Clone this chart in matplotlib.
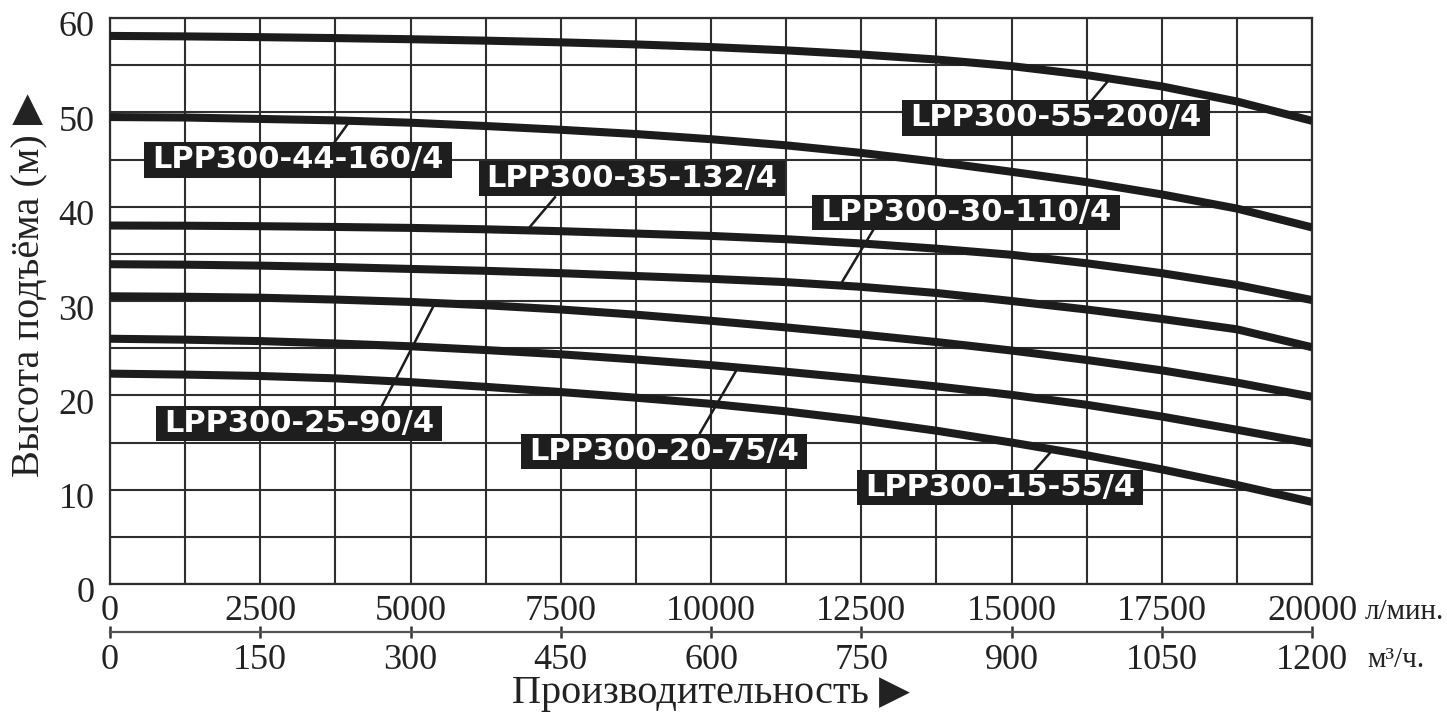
import numpy as np
import matplotlib
matplotlib.use("Agg")
import matplotlib.pyplot as plt
from matplotlib.path import Path
from matplotlib.transforms import ScaledTranslation

# Flow rate grid (l/min) at which the pump heads are tabulated
flow_lpm = [0, 1250, 2500, 3750, 5000, 6250, 7500, 8750, 10000,
            11250, 12500, 13750, 15000, 16250, 17500, 18750, 20000]

# Head (m) for each pump model
head_55_200 = [58.1, 58.05, 57.97, 57.87, 57.75, 57.6, 57.42, 57.2, 56.92,
               56.57, 56.13, 55.6, 54.9, 53.95, 52.75, 51.15, 49.1]
head_44_160 = [49.5, 49.45, 49.3, 49.15, 48.9, 48.55, 48.15, 47.7, 47.15,
               46.5, 45.7, 44.75, 43.7, 42.6, 41.3, 39.8, 37.8]
head_35_132 = [38.0, 37.98, 37.93, 37.85, 37.75, 37.6, 37.4, 37.15, 36.9,
               36.55, 36.1, 35.55, 34.9, 34.0, 32.95, 31.7, 30.1]
head_30_110 = [33.9, 33.85, 33.75, 33.6, 33.4, 33.2, 32.95, 32.65, 32.35,
               32.0, 31.5, 30.85, 30.0, 29.1, 28.1, 27.0, 25.1]
head_25_90 = [30.5, 30.45, 30.35, 30.15, 29.9, 29.55, 29.1, 28.55, 27.9,
              27.2, 26.45, 25.65, 24.75, 23.75, 22.65, 21.35, 19.85]
head_20_75 = [26.0, 25.9, 25.75, 25.5, 25.2, 24.8, 24.35, 23.8, 23.2,
              22.5, 21.75, 20.95, 20.05, 19.0, 17.75, 16.35, 14.9]
head_15_55 = [22.3, 22.2, 22.05, 21.8, 21.4, 20.9, 20.35, 19.75, 19.1,
              18.3, 17.35, 16.25, 15.0, 13.65, 12.15, 10.5, 8.7]

models = ["LPP300-55-200/4", "LPP300-44-160/4", "LPP300-35-132/4",
          "LPP300-30-110/4", "LPP300-25-90/4", "LPP300-20-75/4",
          "LPP300-15-55/4"]
heads = [head_55_200, head_44_160, head_35_132, head_30_110,
         head_25_90, head_20_75, head_15_55]

x_ticks_lpm = [0, 2500, 5000, 7500, 10000, 12500, 15000, 17500, 20000]
x_ticks_m3h = [0, 150, 300, 450, 600, 750, 900, 1050, 1200]
y_ticks = [0, 10, 20, 30, 40, 50, 60]

# Label placement: box centre (x, y), leader start on the box (x, y),
# leader end x on the curve
label_layout = {
    "LPP300-55-200/4": (15740, 49.4, 16340, 51.3, 16640),
    "LPP300-44-160/4": (3128, 44.95, 3744, 46.9, 3993),
    "LPP300-35-132/4": (8686, 43.0, 7404, 41.0, 6938),
    "LPP300-30-110/4": (14243, 39.4, 12696, 37.5, 12146),
    "LPP300-25-90/4": (3145, 17.0, 4526, 18.9, 5408),
    "LPP300-20-75/4": (9218, 14.0, 9817, 16.0, 10449),
    "LPP300-15-55/4": (14809, 10.2, 15391, 12.1, 15690),
}

W, H = 1447, 715
fig = plt.figure(figsize=(W / 100, H / 100), dpi=100)
ax = fig.add_axes([110 / W, 131 / H, 1202 / W, 566 / H])

serif = ["Liberation Serif", "DejaVu Sans"]
ink = "#1c1c1c"
grid_col = "#2e2e2e"
text_col = "#222222"

ax.set_xlim(0, 20000)
ax.set_ylim(0, 60)
ax.set_xticks(x_ticks_lpm)
ax.set_xticks(np.arange(0, 20001, 1250), minor=True)
ax.set_yticks(y_ticks)
ax.set_yticks(np.arange(0, 61, 5), minor=True)
ax.grid(which="both", color=grid_col, lw=1.5)
ax.set_axisbelow(True)
for s in ax.spines.values():
    s.set_color(grid_col)
    s.set_linewidth(1.6)
ax.tick_params(which="both", length=0)
ax.tick_params(axis="x", pad=8)
ax.tick_params(axis="y", pad=11)
ax.set_xticklabels([str(v) for v in x_ticks_lpm], fontsize=26,
                   family=serif, color=text_col)
ax.set_yticklabels([str(v) for v in y_ticks], fontsize=26,
                   family=serif, color=text_col)
shift = ScaledTranslation(0, -6 / 100, fig.dpi_scale_trans)
for lab in ax.get_yticklabels():
    lab.set_transform(lab.get_transform() + shift)

# Pump curves
for model, h in zip(models, heads):
    ax.plot(flow_lpm, h, color=ink, lw=5.8, solid_capstyle="butt",
            solid_joinstyle="round", zorder=3)


def label_box(x0, y0, width, height, mutation_size):
    padx = 0.26 * mutation_size
    pady = 0.1 * mutation_size
    x0, y0 = x0 - padx, y0 - pady
    x1, y1 = x0 + width + 2 * padx, y0 + height + 2 * pady
    return Path([(x0, y0), (x1, y0), (x1, y1), (x0, y1), (x0, y0)],
                closed=True)


for model, h in zip(models, heads):
    cx, cy, lx, ly, ex = label_layout[model]
    ey = np.interp(ex, flow_lpm, h)
    ax.plot([lx, ex], [ly, ey], color=ink, lw=1.8, zorder=4)
    ax.text(cx, cy, model, ha="center", va="center", fontsize=22,
            fontweight="bold", family="DejaVu Sans", color="white",
            zorder=6,
            bbox=dict(boxstyle=label_box, fc="#1e1e1e", ec="none"))

# Secondary flow scale in m3/h
sec = ax.secondary_xaxis(-48 / 566, functions=(lambda q: q * 0.06,
                                               lambda q: q / 0.06))
sec.set_xticks(x_ticks_m3h)
sec.set_xticklabels([str(v) for v in x_ticks_m3h], fontsize=26,
                    family=serif, color=text_col)
sec.tick_params(direction="inout", length=9, width=1.8, color="#333333",
                pad=4)
sec.spines["bottom"].set_color("#555555")
sec.spines["bottom"].set_linewidth(1.6)

# Units and axis titles
fig.text(1365 / W, 1 - 612 / H, "л/мин.", fontsize=21, family=serif,
         va="center", ha="left", color=text_col)
fig.text(1367 / W, 1 - 660 / H, "м³/ч.", fontsize=21, family=serif,
         va="center", ha="left", color=text_col)
fig.text(711 / W, 1 - 693 / H, "Производительность ▶", fontsize=29,
         family=serif, va="center", ha="center", color=text_col)
fig.text(30 / W, 1 - 285 / H, "Высота подъёма (м) ▶", fontsize=29,
         family=serif, va="center", ha="center", rotation=90,
         color=text_col)

fig.savefig("out.png", dpi=100, facecolor="white")
